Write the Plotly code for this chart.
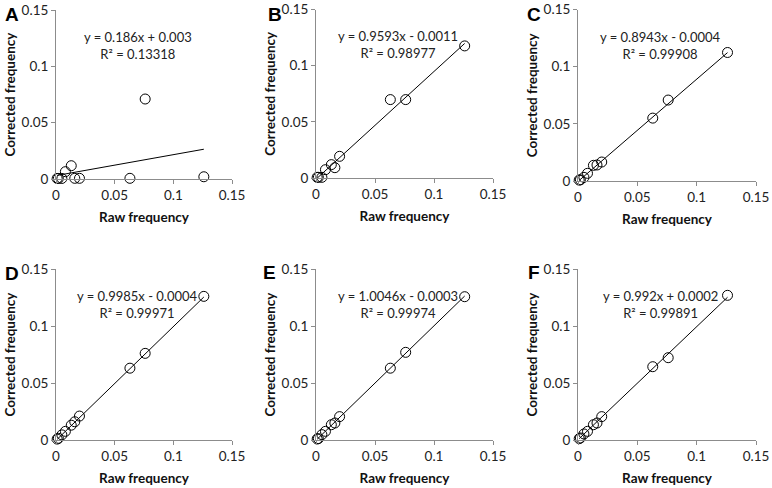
import plotly.graph_objects as go

# raw frequency (x) shared by all panels
raw_freq = [0.001, 0.002, 0.005, 0.008, 0.013, 0.016, 0.020, 0.063, 0.076, 0.126]

# corrected frequency per panel
corr_a = [0.0005, 0.0005, 0.0005, 0.0065, 0.0118, 0.0006, 0.0006, 0.0006, 0.0710, 0.0020]
corr_b = [0.0006, 0.0006, 0.0006, 0.0074, 0.0119, 0.0092, 0.0193, 0.0698, 0.0698, 0.1176]
corr_c = [0.0008, 0.0010, 0.0032, 0.0067, 0.0137, 0.0140, 0.0166, 0.0550, 0.0708, 0.1124]
corr_d = [0.0008, 0.0015, 0.0045, 0.0076, 0.0130, 0.0160, 0.0210, 0.0630, 0.0760, 0.1260]
corr_e = [0.0009, 0.0012, 0.0047, 0.0076, 0.0134, 0.0149, 0.0205, 0.0630, 0.0769, 0.1257]
corr_f = [0.0012, 0.0018, 0.0053, 0.0076, 0.0134, 0.0149, 0.0205, 0.0643, 0.0722, 0.1269]

# trend line coefficients (slope, intercept) and R2 as printed
slopes = [0.186, 0.9593, 0.8943, 0.9985, 1.0046, 0.992]
intercepts = [0.003, -0.0011, -0.0004, -0.0004, -0.0003, 0.0002]
eq_labels = ["y = 0.186x + 0.003", "y = 0.9593x - 0.0011", "y = 0.8943x - 0.0004",
             "y = 0.9985x - 0.0004", "y = 1.0046x - 0.0003", "y = 0.992x + 0.0002"]
r2_labels = ["R² = 0.13318", "R² = 0.98977", "R² = 0.99908",
             "R² = 0.99971", "R² = 0.99974", "R² = 0.99891"]
panel_letters = ["A", "B", "C", "D", "E", "F"]

tick_vals = [0, 0.05, 0.1, 0.15]
tick_text = ["0", "0.05", "0.1", "0.15"]

W, H = 772, 488
# plot areas in pixels: (left, right, top, bottom)
boxes = [(56, 232, 10, 179), (316, 493, 9.5, 178), (578, 756, 9.5, 181),
         (56, 232, 269, 440), (316, 493, 269, 440), (578, 756, 269, 440)]
letter_pos = [(12, 15), (275, 15), (534, 15), (12, 273), (269, 272), (534, 272)]

all_y = [corr_a, corr_b, corr_c, corr_d, corr_e, corr_f]

fig = go.Figure()
font = "Lato, 'Open Sans', sans-serif"
axis_col = "#8c8c8c"

for i in range(6):
    n = "" if i == 0 else str(i + 1)
    xa, ya = "x" + n, "y" + n
    l, r, t, b = boxes[i]
    x0, x1 = min(raw_freq), max(raw_freq)
    fig.add_trace(go.Scatter(x=[x0, x1], y=[slopes[i] * x0 + intercepts[i], slopes[i] * x1 + intercepts[i]],
                             mode="lines", line=dict(color="black", width=1),
                             xaxis=xa, yaxis=ya, showlegend=False, hoverinfo="skip"))
    fig.add_trace(go.Scatter(x=raw_freq, y=all_y[i], mode="markers",
                             marker=dict(symbol="circle-open", size=10, color="black", line=dict(width=1)),
                             xaxis=xa, yaxis=ya, showlegend=False, cliponaxis=False))
    common = dict(range=[0, 0.15], tickvals=tick_vals, ticktext=tick_text, showgrid=False, zeroline=False,
                  showline=True, linecolor=axis_col, linewidth=1, ticks="outside", ticklen=4,
                  tickcolor=axis_col, automargin=False,
                  tickfont=dict(family=font, size=13.5, color="#222"))
    fig.layout["xaxis" + n] = dict(common, domain=[l / W, r / W], anchor=ya,
                                   title=dict(text="<b>Raw frequency</b>", standoff=10,
                                              font=dict(family=font, size=13.5, color="#111")))
    fig.layout["yaxis" + n] = dict(common, domain=[1 - b / H, 1 - t / H], anchor=xa,
                                   title=dict(text="<b>Corrected frequency</b>", standoff=2,
                                              font=dict(family=font, size=13.5, color="#111")))
    fig.add_annotation(x=0.0695, y=0.1185, xref=xa, yref=ya, showarrow=False,
                       text=eq_labels[i] + "<br>" + r2_labels[i], align="center",
                       font=dict(family=font, size=13, color="#222"))
    lx, ly = letter_pos[i]
    fig.add_annotation(x=lx / W, y=1 - ly / H, xref="paper", yref="paper", showarrow=False,
                       text="<b>" + panel_letters[i] + "</b>", xanchor="center", yanchor="middle",
                       font=dict(family="Liberation Sans, Arial", size=19, color="black"))

fig.update_layout(width=W, height=H, margin=dict(l=0, r=0, t=0, b=0),
                  paper_bgcolor="white", plot_bgcolor="white")
# drop the default page margin so the figure sits at the window's corner
fig.write_html("out.html", config={"displayModeBar": False},
               post_script="document.body.style.margin='0px';")
